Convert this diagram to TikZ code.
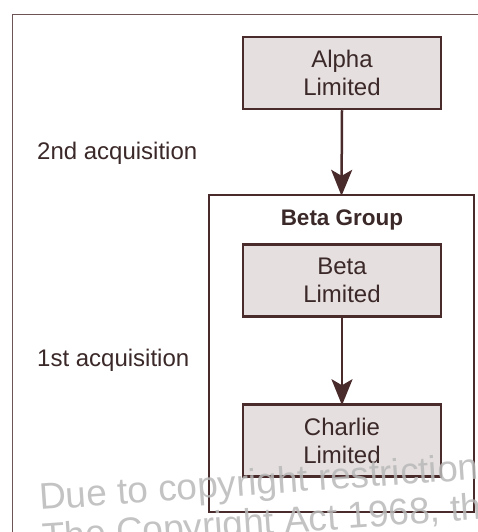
\documentclass[tikz,border=0pt]{standalone}
\usepackage{fontspec}
\setmainfont{Liberation Sans}
\usetikzlibrary{arrows.meta}
\definecolor{boxline}{HTML}{4A2B2B}
\definecolor{boxfill}{HTML}{E6DFDF}
\definecolor{txt}{HTML}{3B2828}
\definecolor{frame}{HTML}{6E5555}
\definecolor{wm}{HTML}{B9B9B9}
\begin{document}
\begin{tikzpicture}[x=1pt,y=-1pt,
  company/.style={draw=boxline,line width=2.5pt,fill=boxfill,minimum width=198pt,minimum height=72pt,
    inner sep=0pt,align=center,text=txt,font=\fontsize{24}{28}\selectfont},
  groupbox/.style={draw=boxline,line width=2.3pt,minimum width=265pt,minimum height=317pt,inner sep=0pt},
  label/.style={anchor=west,text=txt,inner sep=0pt,font=\fontsize{24}{28}\selectfont},
  link/.style={draw=boxline,line width=2.5pt,-{Stealth[length=26pt,width=21pt,inset=6pt]}},
  watermark/.style={anchor=base west,inner sep=0pt,text=wm,opacity=0.85,rotate=4,font=\fontsize{37}{40}\selectfont}]
\useasboundingbox (0,0) rectangle (478,532);
\begin{scope}
\clip (0,0) rectangle (478,532);
\fill[white] (0,0) rectangle (478,532);
\draw[frame,line width=1pt] (12,545) -- (12,15) -- (490,15);
\node[groupbox] (group) at (341.5,353.5) {};
\node[anchor=center,text=txt,font=\fontsize{22.5}{26}\selectfont\bfseries,inner sep=0pt] (grouptitle) at (342,220) {Beta Group};
\node[company] (alpha) at (342,73) {Alpha\\Limited};
\node[company] (beta) at (342,280.5) {Beta\\Limited};
\node[company] (charlie) at (342,440.5) {Charlie\\Limited};
\node[label] (second) at (37,153) {2nd acquisition};
\node[label] (first) at (37,360) {1st acquisition};
\draw[link] (alpha.south) -- ([yshift=-2pt]group.north);
\draw[link] (beta.south) -- ([yshift=-2pt]charlie.north);
\node[watermark] (wm1) at (40,510) {Due to copyright restriction};
\node[watermark] (wm2) at (43,550) {The Copyright Act 1968, the};
\end{scope}
\end{tikzpicture}
\end{document}
